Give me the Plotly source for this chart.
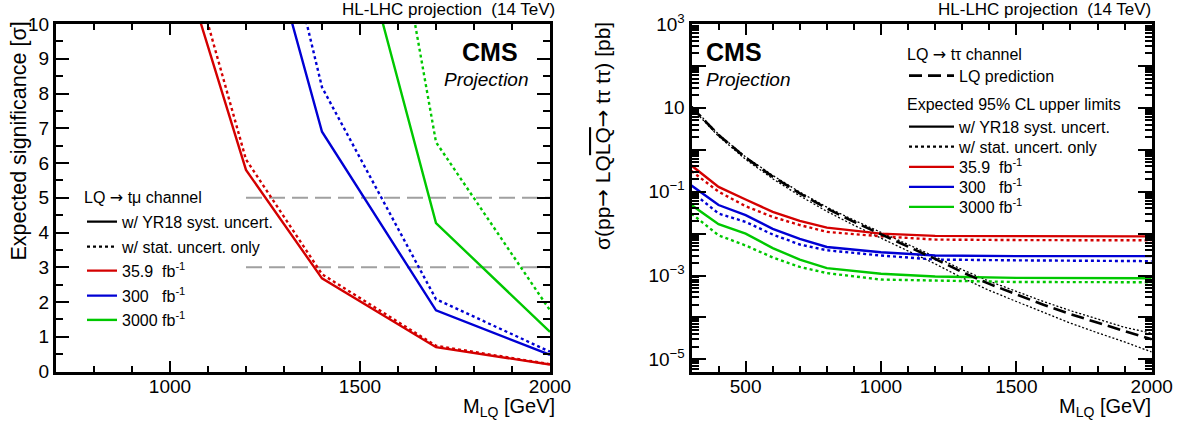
import plotly.graph_objects as go

# ---------------- data: left panel (LQ -> t mu, expected significance) ----------------
m_left = [1000, 1200, 1400, 1700, 2000]
sig_red_syst = [12.9, 5.8, 2.68, 0.70, 0.20]
sig_red_stat = [13.9, 6.1, 2.80, 0.74, 0.21]
sig_blue_syst = [None, 14.85, 6.9, 1.76, 0.48]
sig_blue_stat = [None, 17.3, 8.18, 2.08, 0.57]
sig_green_syst = [None, None, 16.6, 4.27, 1.14]
sig_green_stat = [None, None, 25.1, 6.6, 1.76]
sig_levels = [5, 3]
level_x = [1200, 2000]

# ---------------- data: right panel (LQ -> t tau, cross section limits) ----------------
m_lim = [300, 400, 500, 600, 700, 800, 1000, 1200, 1500, 2000]
lim_red_syst = [0.42, 0.13, 0.065, 0.033, 0.020, 0.0139, 0.0100, 0.0088, 0.0087, 0.0086]
lim_red_stat = [0.31, 0.10, 0.045, 0.025, 0.016, 0.011, 0.0086, 0.0072, 0.0070, 0.0069]
lim_blue_syst = [0.14, 0.048, 0.0275, 0.0130, 0.0075, 0.0048, 0.0036, 0.0030, 0.0029, 0.0029]
lim_blue_stat = [0.10, 0.030, 0.019, 0.0095, 0.0055, 0.0040, 0.0030, 0.0024, 0.0023, 0.0022]
lim_green_syst = [0.048, 0.0168, 0.010, 0.0045, 0.0024, 0.0015, 0.0011, 0.00095, 0.00088, 0.00086]
lim_green_stat = [0.030, 0.0091, 0.0052, 0.0027, 0.0016, 0.00114, 0.00080, 0.00076, 0.00070, 0.00069]

m_pred = [300, 400, 500, 600, 700, 800, 900, 1000, 1100, 1200, 1300, 1400, 1500, 1600, 1700, 1800, 1900, 2000]
xs_pred = [10.5, 2.24, 0.646, 0.229, 0.0912, 0.0398, 0.0191, 0.00955, 0.0049, 0.00250, 0.00120,
           6.3e-4, 3.55e-4, 2.0e-4, 1.2e-4, 7.4e-5, 4.7e-5, 3.0e-5]
xs_pred_up = [11.0, 2.34, 0.676, 0.245, 0.0977, 0.0427, 0.0209, 0.0105, 0.0055, 0.00281, 0.00138,
              7.3e-4, 4.2e-4, 2.4e-4, 1.45e-4, 9.0e-5, 5.8e-5, 4.2e-5]
xs_pred_dn = [10.0, 2.09, 0.589, 0.204, 0.0794, 0.0339, 0.0158, 0.00776, 0.0038, 0.00190, 0.00088,
              4.4e-4, 2.4e-4, 1.3e-4, 7.3e-5, 4.3e-5, 2.6e-5, 1.5e-5]

lumi_labels = ["35.9\u00a0\u00a0fb<sup>-1</sup>", "300\u00a0\u00a0\u00a0fb<sup>-1</sup>", "3000\u00a0fb<sup>-1</sup>"]

RED, BLUE, GREEN = "#d40000", "#0000d4", "#00c800"
FONT = "Liberation Sans, Arial, Helvetica, sans-serif"
ARROW = "<span style='font-family:DejaVu Sans'>\u2192</span>"
LW = 2.4
DOT = "dot"

W, H = 1183, 421
def px(x):
    return x / W
def py(y):
    return 1 - y / H

fig = go.Figure()

# left panel
for lv in sig_levels:
    fig.add_trace(go.Scatter(x=level_x, y=[lv, lv], mode="lines", xaxis="x", yaxis="y",
                             line=dict(color="#a0a0a0", width=2.2, dash="16px,7px"), showlegend=False, hoverinfo="skip"))
for ys, col, dash in [(sig_red_stat, RED, DOT), (sig_red_syst, RED, "solid"),
                      (sig_blue_stat, BLUE, DOT), (sig_blue_syst, BLUE, "solid"),
                      (sig_green_stat, GREEN, DOT), (sig_green_syst, GREEN, "solid")]:
    fig.add_trace(go.Scatter(x=m_left, y=ys, mode="lines", xaxis="x", yaxis="y",
                             line=dict(color=col, width=LW, dash=dash), showlegend=False))

# right panel
fig.add_trace(go.Scatter(x=m_pred, y=xs_pred_up, mode="lines", xaxis="x2", yaxis="y2",
                         line=dict(color="black", width=1.3, dash="2px,2px"), showlegend=False))
fig.add_trace(go.Scatter(x=m_pred, y=xs_pred_dn, mode="lines", xaxis="x2", yaxis="y2",
                         line=dict(color="black", width=1.3, dash="2px,2px"), showlegend=False))
for ys, col, dash in [(lim_red_stat, RED, DOT), (lim_red_syst, RED, "solid"),
                      (lim_blue_stat, BLUE, DOT), (lim_blue_syst, BLUE, "solid"),
                      (lim_green_stat, GREEN, DOT), (lim_green_syst, GREEN, "solid")]:
    fig.add_trace(go.Scatter(x=m_lim, y=ys, mode="lines", xaxis="x2", yaxis="y2",
                             line=dict(color=col, width=LW, dash=dash), showlegend=False))
fig.add_trace(go.Scatter(x=m_pred, y=xs_pred, mode="lines", xaxis="x2", yaxis="y2", name="LQ prediction",
                         line=dict(color="black", width=2.6, dash="13px,6px"), legend="legend", showlegend=True))

# legend entries: one single-item legend per row so rows can be spaced like the original
legend_layout = {}
rows = [
    # (name, colour, dash, left_x, center_y, itemwidth)
    ("w/ YR18 syst. uncert.", "black", "solid", 82, 221.7, 30),
    ("w/ stat. uncert. only", "black", DOT, 82, 246.7, 30),
    (lumi_labels[0], RED, "solid", 82, 270.7, 30),
    (lumi_labels[1], BLUE, "solid", 82, 295.7, 30),
    (lumi_labels[2], GREEN, "solid", 82, 320.0, 30),
    ("w/ YR18 syst. uncert.", "black", "solid", 904, 126.7, 45),
    ("w/ stat. uncert. only", "black", DOT, 904, 146.7, 45),
    (lumi_labels[0], RED, "solid", 904, 167.0, 45),
    (lumi_labels[1], BLUE, "solid", 904, 187.0, 45),
    (lumi_labels[2], GREEN, "solid", 904, 207.0, 45),
]
legend_layout["legend"] = dict(x=px(904), y=py(75.7), xanchor="left", yanchor="middle", bgcolor="rgba(0,0,0,0)",
                               font=dict(size=16), itemwidth=45)
for i, (name, col, dash, lx, cy, iw) in enumerate(rows):
    key = "legend%d" % (i + 2)
    fig.add_trace(go.Scatter(x=[None], y=[None], mode="lines", name=name, xaxis="x", yaxis="y",
                             line=dict(color=col, width=LW, dash=dash), legend=key, showlegend=True))
    legend_layout[key] = dict(x=px(lx), y=py(cy), xanchor="left", yanchor="middle", bgcolor="rgba(0,0,0,0)",
                              font=dict(size=16), itemwidth=iw)

axis_common = dict(showline=True, linewidth=3, linecolor="black", mirror="allticks", ticks="inside",
                   tickwidth=1.5, tickcolor="black", showgrid=False, zeroline=False,
                   tickfont=dict(family=FONT, size=19, color="black"))

minor_vals = [m * 10.0 ** e for e in range(-6, 3) for m in range(2, 10)]

fig.update_layout(
    width=W, height=H, margin=dict(l=0, r=0, t=0, b=0, autoexpand=False),
    paper_bgcolor="white", plot_bgcolor="white",
    font=dict(family=FONT, size=16, color="black"),
    xaxis=dict(domain=[px(56), px(550)], range=[700, 2000], tickvals=[1000, 1500, 2000], ticklen=11,
               ticklabelstandoff=-4,
               minor=dict(dtick=100, tick0=0, ticks="inside", ticklen=6, tickwidth=1.5, tickcolor="black"),
               anchor="y", **axis_common),
    yaxis=dict(domain=[py(371.5), py(24)], range=[0, 10], dtick=1, ticklen=13,
               minor=dict(dtick=0.5, ticks="inside", ticklen=7, tickwidth=1.5, tickcolor="black"),
               anchor="x", **axis_common),
    xaxis2=dict(domain=[px(691.5), px(1151.7)], range=[300, 2000], tick0=0, dtick=500, ticklen=11,
                ticklabelstandoff=-4,
                minor=dict(dtick=100, tick0=0, ticks="inside", ticklen=6, tickwidth=1.5, tickcolor="black"),
                anchor="y2", **axis_common),
    yaxis2=dict(domain=[py(371.5), py(24)], type="log", range=[-5.29, 3],
                tickvals=[10.0 ** e for e in range(-5, 4)],
                ticktext=["10<sup>\u22125</sup>", "", "10<sup>\u22123</sup>", "", "10<sup>\u22121</sup>", "", "10", "", "10<sup>3</sup>"],
                ticklen=14,
                minor=dict(tickmode="array", tickvals=minor_vals, ticks="inside", ticklen=7, tickwidth=1.5, tickcolor="black"),
                anchor="x2", **axis_common),
    **legend_layout,
)

ann = [
    dict(text="Expected significance [\u03c3]", x=px(18), y=py(20), xanchor="center", yanchor="top", textangle=-90, font=dict(size=21.5)),
    dict(text="\u03c3(pp" + ARROW + " LQ<span style='text-decoration:overline'>LQ</span>" + ARROW + " t\u03c4 t\u03c4) [pb]",
         x=px(603), y=py(20), xanchor="center", yanchor="top", textangle=-90, font=dict(size=21)),
    dict(text="M<sub>LQ</sub> [GeV]", x=px(557), y=py(407), xanchor="right", yanchor="middle", font=dict(size=20)),
    dict(text="M<sub>LQ</sub> [GeV]", x=px(1153), y=py(407), xanchor="right", yanchor="middle", font=dict(size=20)),
    dict(text="HL-LHC projection\u00a0 (14 TeV)", x=px(557), y=py(10), xanchor="right", yanchor="middle", font=dict(size=17)),
    dict(text="HL-LHC projection\u00a0 (14 TeV)", x=px(1153), y=py(10), xanchor="right", yanchor="middle", font=dict(size=17)),
    dict(text="<b>CMS</b>", x=px(490), y=py(52), xanchor="center", yanchor="middle", font=dict(size=25)),
    dict(text="<i>Projection</i>", x=px(486), y=py(80), xanchor="center", yanchor="middle", font=dict(size=19)),
    dict(text="<b>CMS</b>", x=px(704), y=py(52), xanchor="left", yanchor="middle", font=dict(size=25)),
    dict(text="<i>Projection</i>", x=px(704), y=py(80), xanchor="left", yanchor="middle", font=dict(size=19)),
    dict(text="LQ " + ARROW + " t\u03bc channel", x=px(82), y=py(197), xanchor="left", yanchor="middle", font=dict(size=16)),
    dict(text="LQ " + ARROW + " t\u03c4 channel", x=px(905), y=py(55), xanchor="left", yanchor="middle", font=dict(size=16)),
    dict(text="Expected 95% CL upper limits", x=px(905), y=py(105), xanchor="left", yanchor="middle", font=dict(size=16)),
]
for a in ann:
    a.update(xref="paper", yref="paper", showarrow=False)
    a["font"].update(family=FONT, color="black")
fig.update_layout(annotations=ann)

fig.write_html("out.html", config={"displayModeBar": False},
               post_script="document.body.style.margin='0px';document.body.style.padding='0px';")
